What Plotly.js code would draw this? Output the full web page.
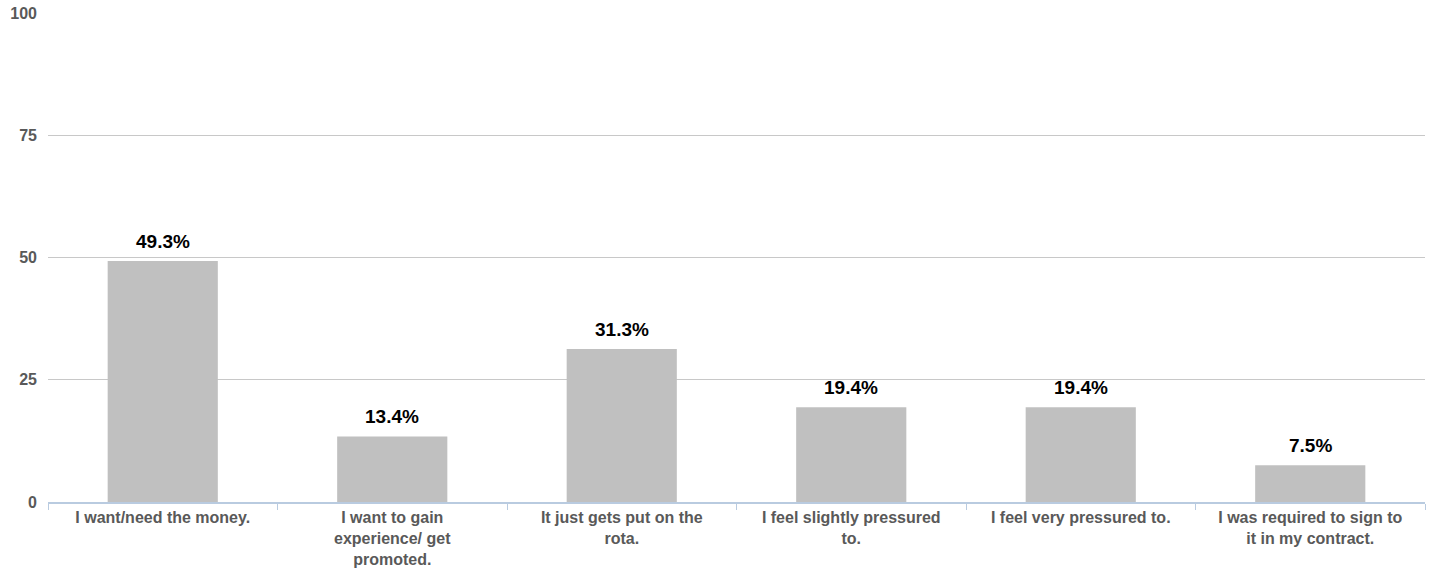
<!DOCTYPE html>
<html><head><meta charset="utf-8">
<script src="https://cdn.plot.ly/plotly-3.0.1.min.js"></script>
<style>body{margin:0;background:#fff}#c{width:1435px;height:575px}</style>
</head><body><div id="c"></div>
<script>
const categories = ["I want/need the money.", "I want to gain<br>experience/ get<br>promoted.", "It just gets put on the<br>rota.", "I feel slightly pressured<br>to.", "I feel very pressured to.", "I was required to sign to<br>it in my contract."];
const values = [49.3, 13.4, 31.3, 19.4, 19.4, 7.5];
const valueLabels = ["49.3%", "13.4%", "31.3%", "19.4%", "19.4%", "7.5%"];
const yTicks = [0, 25, 50, 75, 100];

const trace = {type:'bar', x:categories, y:values, marker:{color:'#c0c0c0'}, width:0.48, hoverinfo:'none'};
const annotations = categories.map((c,i)=>({x:c, y:values[i], text:'<b>'+valueLabels[i]+'</b>', showarrow:false, yanchor:'bottom', yshift:7, font:{family:'Liberation Sans, Arial', size:19, color:'#000'}}));
const layout = {
  width:1435, height:575,
  margin:{l:48, r:10, t:13, b:73},
  paper_bgcolor:'#fff', plot_bgcolor:'#fff',
  showlegend:false,
  xaxis:{tickson:'boundaries', ticks:'outside', ticklen:6, tickcolor:'#b9cbe0', showline:true, linecolor:'#b9cbe0', linewidth:2, showgrid:false,
    tickvals:categories, ticktext:categories.map(c=>'<b>'+c+'</b>'),
    tickfont:{family:'Liberation Sans, Arial', size:16, color:'#595959'}, automargin:false},
  yaxis:{range:[0,100], tickvals:yTicks, ticktext:yTicks.map(v=>'<b>'+v+'</b>'), showgrid:true, gridcolor:'#c8c8c8', gridwidth:1, zeroline:false, showline:false, ticks:'', ticklen:0, ticklabelstandoff:10,
    tickfont:{family:'Liberation Sans, Arial', size:16, color:'#595959'}, automargin:false},
  annotations:annotations,
  bargap:0.52
};
Plotly.newPlot('c', [trace], layout, {displayModeBar:false, staticPlot:true});
</script></body></html>
